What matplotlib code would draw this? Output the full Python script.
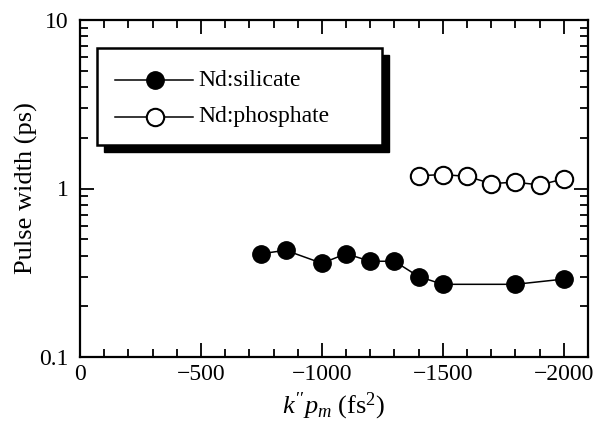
import matplotlib
matplotlib.use("Agg")
import matplotlib.pyplot as plt
from matplotlib.patches import Rectangle
from matplotlib.lines import Line2D
from matplotlib.ticker import FixedLocator, LogLocator, NullFormatter, FuncFormatter

plt.rcParams['font.family'] = ['Liberation Serif', 'DejaVu Serif']
plt.rcParams['mathtext.fontset'] = 'custom'
plt.rcParams['mathtext.rm'] = 'Liberation Serif'
plt.rcParams['mathtext.it'] = 'Liberation Serif:italic'

# Data
silicate_x = [-750, -850, -1000, -1100, -1200, -1300, -1400, -1500, -1800, -2000]
silicate_y = [0.41, 0.43, 0.36, 0.41, 0.37, 0.37, 0.30, 0.27, 0.27, 0.29]
phosphate_x = [-1400, -1500, -1600, -1700, -1800, -1900, -2000]
phosphate_y = [1.19, 1.21, 1.18, 1.07, 1.09, 1.05, 1.14]
series_labels = ["Nd:silicate", "Nd:phosphate"]
x_ticks = [0, -500, -1000, -1500, -2000]
y_ticks = [0.1, 1, 10]
y_tick_labels = ["0.1", "1", "10"]

W, H = 597, 424
fig = plt.figure(figsize=(W/100, H/100), dpi=100)
L, R, T, B = 80, 588, 20, 357
ax = fig.add_axes([L/W, 1-B/H, (R-L)/W, (B-T)/H])

MS = 12.5
ax.plot(silicate_x, silicate_y, '-', color='black', lw=1.1, marker='o', ms=MS,
        mfc='black', mec='black', label=series_labels[0])
ax.plot(phosphate_x, phosphate_y, '-', color='black', lw=1.1, marker='o', ms=MS,
        mfc='white', mec='black', mew=1.5, label=series_labels[1])

ax.set_yscale('log')
ax.set_ylim(0.1, 10)
ax.set_xlim(0, -2100)
ax.set_xticks(x_ticks)
ax.xaxis.set_minor_locator(FixedLocator(list(range(0, -2101, -100))))
ax.set_yticks(y_ticks)
ax.set_yticklabels(y_tick_labels)
ax.yaxis.set_minor_locator(LogLocator(base=10, subs=range(2, 10)))
ax.yaxis.set_minor_formatter(NullFormatter())
ax.xaxis.set_major_formatter(FuncFormatter(lambda v, p: "0" if v == 0 else "\u2212%d" % abs(v)))

for s in ax.spines.values():
    s.set_linewidth(1.6)
ax.tick_params(which='both', direction='in', top=True, right=True, width=1.3, labelsize=17)
ax.tick_params(axis='x', pad=5)
ax.tick_params(axis='y', pad=8)
ax.tick_params(which='major', length=10)
ax.tick_params(which='minor', length=6)

ax.set_ylabel("Pulse width (ps)", fontsize=19, labelpad=1)
ax.set_xlabel(r"$k''p_m$ (fs$^2$)", fontsize=19, labelpad=4)

# Legend box with shadow, placed in axes coordinates converted from pixel positions
def ax_x(px):
    return (px - L) / (R - L)
def ax_y(py):
    return (B - py) / (B - T)

bx0, bx1, by0, by1 = 97, 382, 48, 145
sh = 7
ax.add_patch(Rectangle((ax_x(bx0 + sh), ax_y(by1 + sh)), ax_x(bx1 + sh) - ax_x(bx0 + sh),
                       ax_y(by0 + sh) - ax_y(by1 + sh), transform=ax.transAxes,
                       facecolor='black', edgecolor='black', zorder=5, clip_on=False))
ax.add_patch(Rectangle((ax_x(bx0), ax_y(by1)), ax_x(bx1) - ax_x(bx0), ax_y(by0) - ax_y(by1),
                       transform=ax.transAxes, facecolor='white', edgecolor='black',
                       lw=1.8, zorder=6, clip_on=False))
rows = [(80, 'black', 1.0), (117, 'white', 1.5)]
for (ry, fc, mew), lab in zip(rows, series_labels):
    ax.add_line(Line2D([ax_x(115), ax_x(193)], [ax_y(ry), ax_y(ry)], transform=ax.transAxes,
                       color='black', lw=1.1, zorder=7))
    ax.add_line(Line2D([ax_x(155)], [ax_y(ry)], transform=ax.transAxes, marker='o', ms=MS,
                       mfc=fc, mec='black', mew=mew, zorder=8))
    ax.text(ax_x(198), ax_y(ry), lab, transform=ax.transAxes, fontsize=17,
            va='center', ha='left', zorder=8)

fig.savefig("out.png", dpi=100)
